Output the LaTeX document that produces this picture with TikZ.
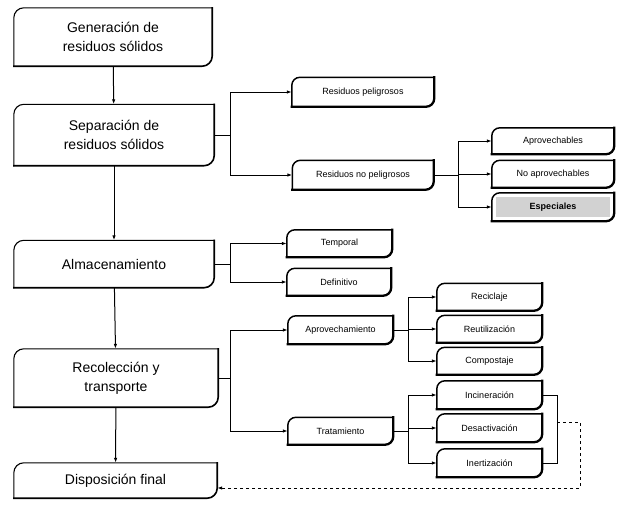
\documentclass[tikz,border=0pt]{standalone}
\usepackage{fontspec}
\setmainfont{Liberation Sans}
\usetikzlibrary{arrows.meta,calc}
\newcommand{\myoutline}[4]{% name, width top-left, width bottom-right, radius (number, y grows downward)
  \draw[line width=#2,line cap=rect,line join=round] (#1.south west) -- ($(#1.north west)+(0,#4)$)
     .. controls ($(#1.north west)+(0,{0.45*#4})$) and ($(#1.north west)+({0.45*#4},0)$) .. ($(#1.north west)+(#4,0)$) -- (#1.north east);
  \draw[line width=#3,line cap=rect,line join=round] (#1.north east) -- ($(#1.south east)+(0,-#4)$)
     .. controls ($(#1.south east)+(0,{-0.45*#4})$) and ($(#1.south east)+({-0.45*#4},0)$) .. ($(#1.south east)+(-#4,0)$) -- (#1.south west);}
\begin{document}
\begin{tikzpicture}[x=1pt,y=-1pt,
  mainbox/.style={inner sep=0pt,align=center,font=\fontsize{14}{19}\selectfont},
  leafbox/.style={inner sep=0pt,align=center,font=\fontsize{9}{11}\selectfont},
  conn/.style={line width=1pt},
  arr/.style={line width=1pt,-{Latex[length=5pt,width=3.5pt]}},
  dconn/.style={line width=1pt,dash pattern=on 3pt off 3pt,-{Latex[length=5pt,width=3.5pt]}}]
\useasboundingbox (0,0) rectangle (618,509);
% main column
\node[mainbox,minimum width=198pt,minimum height=58pt] (gen) at (113,37) {Generación de\\residuos sólidos};
\node[mainbox,minimum width=200pt,minimum height=61pt] (sep) at (114,135) {Separación de\\residuos sólidos};
\node[mainbox,minimum width=200pt,minimum height=47pt] (alm) at (114,264) {Almacenamiento};
\node[mainbox,minimum width=204pt,minimum height=58pt] (rec) at (116,378) {Recolección y\\transporte};
\node[mainbox,minimum width=203pt,minimum height=35pt] (disp) at (115.5,480.5) {Disposición final};
\foreach \n in {gen,sep,alm,rec,disp} {\myoutline{\n}{1.1pt}{1.6pt}{10}}
% level 2
\node[leafbox,minimum width=142pt,minimum height=29pt] (rp) at (363,92) {Residuos peligrosos};
\node[leafbox,minimum width=141pt,minimum height=29pt] (rnp) at (363,175) {Residuos no peligrosos};
\node[leafbox,minimum width=105pt,minimum height=27pt] (tmp) at (339.5,243.5) {Temporal};
\node[leafbox,minimum width=104pt,minimum height=27pt] (dfn) at (339,282) {Definitivo};
\node[leafbox,minimum width=105pt,minimum height=28pt] (apr) at (340.5,330) {Aprovechamiento};
\node[leafbox,minimum width=105pt,minimum height=27pt] (tra) at (340.5,431) {Tratamiento};
% level 3
\fill[gray!35] (492+4,207-14+4) rectangle (614-4,207+14-4);
\node[leafbox,minimum width=122pt,minimum height=26pt] (apv) at (553,141) {Aprovechables};
\node[leafbox,minimum width=122pt,minimum height=27pt] (nap) at (553,174) {No aprovechables};
\node[leafbox,minimum width=122pt,minimum height=28pt,font=\fontsize{9}{11}\selectfont\bfseries] (esp) at (553,207) {Especiales};
\node[leafbox,minimum width=105pt,minimum height=27pt] (rcj) at (489.5,297) {Reciclaje};
\node[leafbox,minimum width=105pt,minimum height=27pt] (reu) at (489.5,329) {Reutilización};
\node[leafbox,minimum width=105pt,minimum height=27pt] (com) at (489.5,361) {Compostaje};
\node[leafbox,minimum width=105pt,minimum height=28pt] (inc) at (489.5,395) {Incineración};
\node[leafbox,minimum width=105pt,minimum height=28pt] (des) at (489.5,428) {Desactivación};
\node[leafbox,minimum width=105pt,minimum height=28pt] (ine) at (489.5,463) {Inertización};
\foreach \n in {rp,rnp,tmp,dfn,apr,tra,apv,nap,esp,rcj,reu,com,inc,des,ine} {\myoutline{\n}{1.5pt}{2.3pt}{8}}
% main arrows
\draw[arr] (gen) -- (sep);
\draw[arr] (sep) -- (alm);
\draw[arr] (alm) -- (rec);
\draw[arr] (rec) -- (disp);
% junction coordinates
\coordinate (jA) at (230,0);
\coordinate (jB) at (458,0);
\coordinate (jC) at (408,0);
\coordinate (jD) at (557,0);
% separacion
\draw[conn] (sep.east) -- (sep.east -| jA);
\draw[conn] (jA |- rp.west) -- (jA |- rnp.west);
\draw[arr] (jA |- rp.west) -- (rp.west);
\draw[arr] (jA |- rnp.west) -- (rnp.west);
% no peligrosos
\draw[conn] (rnp.east) -- (rnp.east -| jB);
\draw[conn] (jB |- apv.west) -- (jB |- esp.west);
\draw[arr] (jB |- apv.west) -- (apv.west);
\draw[arr] (jB |- nap.west) -- (nap.west);
\draw[arr] (jB |- esp.west) -- (esp.west);
% almacenamiento
\draw[conn] (alm.east) -- (alm.east -| jA);
\draw[conn] (jA |- tmp.west) -- (jA |- dfn.west);
\draw[arr] (jA |- tmp.west) -- (tmp.west);
\draw[arr] (jA |- dfn.west) -- (dfn.west);
% recoleccion
\draw[conn] (rec.east) -- (rec.east -| jA);
\draw[conn] (jA |- apr.west) -- (jA |- tra.west);
\draw[arr] (jA |- apr.west) -- (apr.west);
\draw[arr] (jA |- tra.west) -- (tra.west);
% aprovechamiento
\draw[conn] (apr.east) -- (apr.east -| jC);
\draw[conn] (jC |- rcj.west) -- (jC |- com.west);
\draw[arr] (jC |- rcj.west) -- (rcj.west);
\draw[arr] (jC |- reu.west) -- (reu.west);
\draw[arr] (jC |- com.west) -- (com.west);
% tratamiento
\draw[conn] (tra.east) -- (tra.east -| jC);
\draw[conn] (jC |- inc.west) -- (jC |- ine.west);
\draw[arr] (jC |- inc.west) -- (inc.west);
\draw[arr] (jC |- des.west) -- (des.west);
\draw[arr] (jC |- ine.west) -- (ine.west);
% right bracket and dashed return
\draw[conn] (inc.east) -| (jD |- ine.east) -- (ine.east);
\coordinate (dS) at (557,422);
\coordinate (dT) at (580,488);
\draw[dconn] (dS) -| (dT) -- (dT -| disp.east);
\end{tikzpicture}
\end{document}
